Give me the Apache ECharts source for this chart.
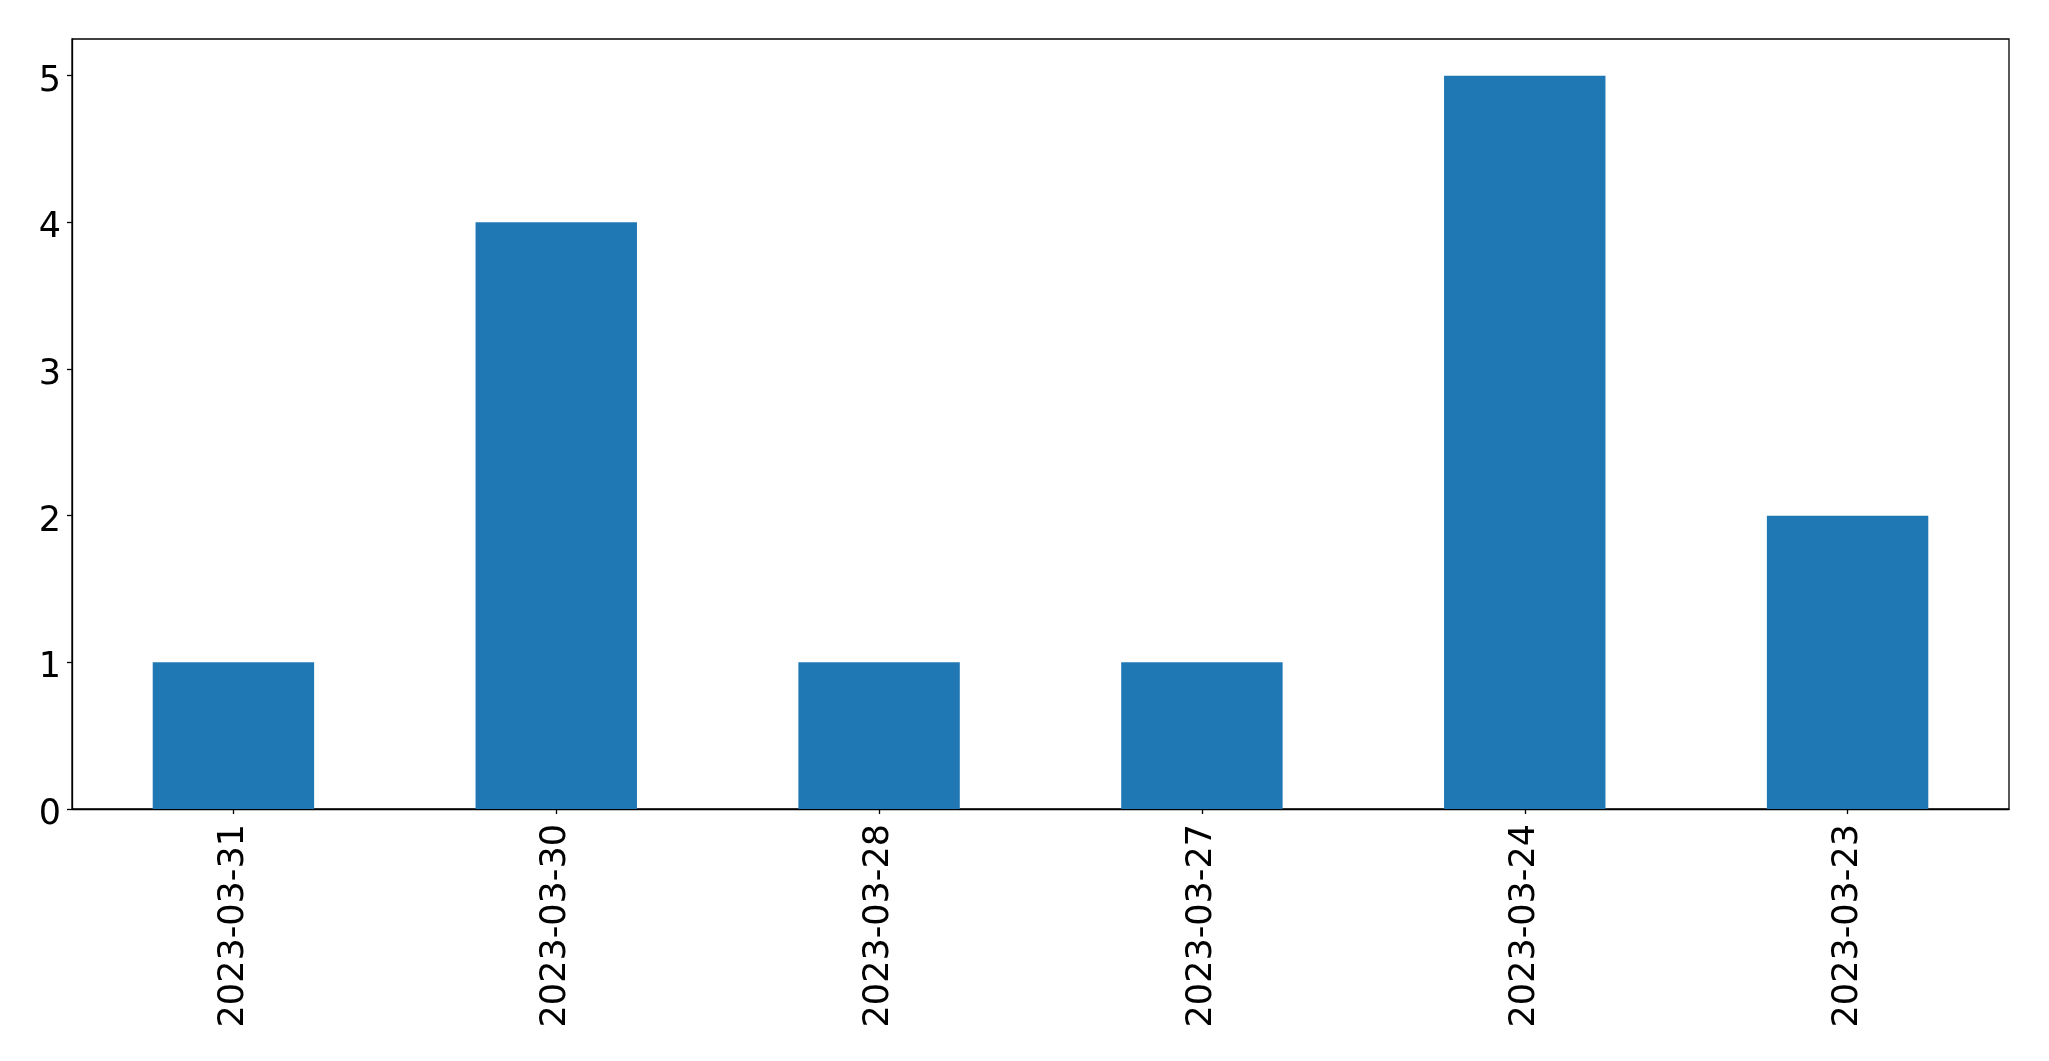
<!DOCTYPE html>
<html>
<head>
<meta charset="utf-8">
<script src="https://cdn.jsdelivr.net/npm/echarts@6/dist/echarts.min.js"></script>
<style>
html,body{margin:0;padding:0;background:#fff;}
#chart{width:2049px;height:1061px;}
</style>
</head>
<body>
<div id="chart"></div>
<script>
const categories = ["2023-03-31", "2023-03-30", "2023-03-28", "2023-03-27", "2023-03-24", "2023-03-23"];
const values = [1, 4, 1, 1, 5, 2];
const yTicks = [0, 1, 2, 3, 4, 5];

const chart = echarts.init(document.getElementById('chart'), null, {renderer: 'canvas'});
const font = 'DejaVu Sans';
chart.setOption({
  animation: false,
  backgroundColor: '#ffffff',
  grid: {
    left: 72, right: 40, top: 39, bottom: 252,
    show: true, borderColor: '#000', borderWidth: 1.3, backgroundColor: 'transparent'
  },
  xAxis: {
    type: 'category',
    data: categories,
    boundaryGap: true,
    axisLine: {show: true, lineStyle: {color: '#000', width: 1.3}},
    axisTick: {show: true, alignWithLabel: true, length: 5, lineStyle: {color: '#000', width: 1.3}},
    axisLabel: {rotate: 90, margin: 15, fontSize: 35, fontFamily: font, color: '#000'},
    splitLine: {show: false}
  },
  yAxis: {
    type: 'value',
    min: 0, max: 5.25, interval: 1,
    axisLine: {show: true, lineStyle: {color: '#000', width: 1.3}},
    axisTick: {show: true, length: 5, lineStyle: {color: '#000', width: 1.3}},
    axisLabel: {
      margin: 11, color: '#000',
      showMaxLabel: false,
      formatter: v => yTicks.includes(v) ? '{a|' + v + '}' : '',
      rich: {a: {fontSize: 35, fontFamily: font, color: '#000', padding: [12, 0, 0, 0]}}
    },
    splitLine: {show: false}
  },
  series: [{
    type: 'bar',
    data: values,
    barWidth: '50%',
    itemStyle: {color: '#1f77b4'}
  }]
});
</script>
</body>
</html>
